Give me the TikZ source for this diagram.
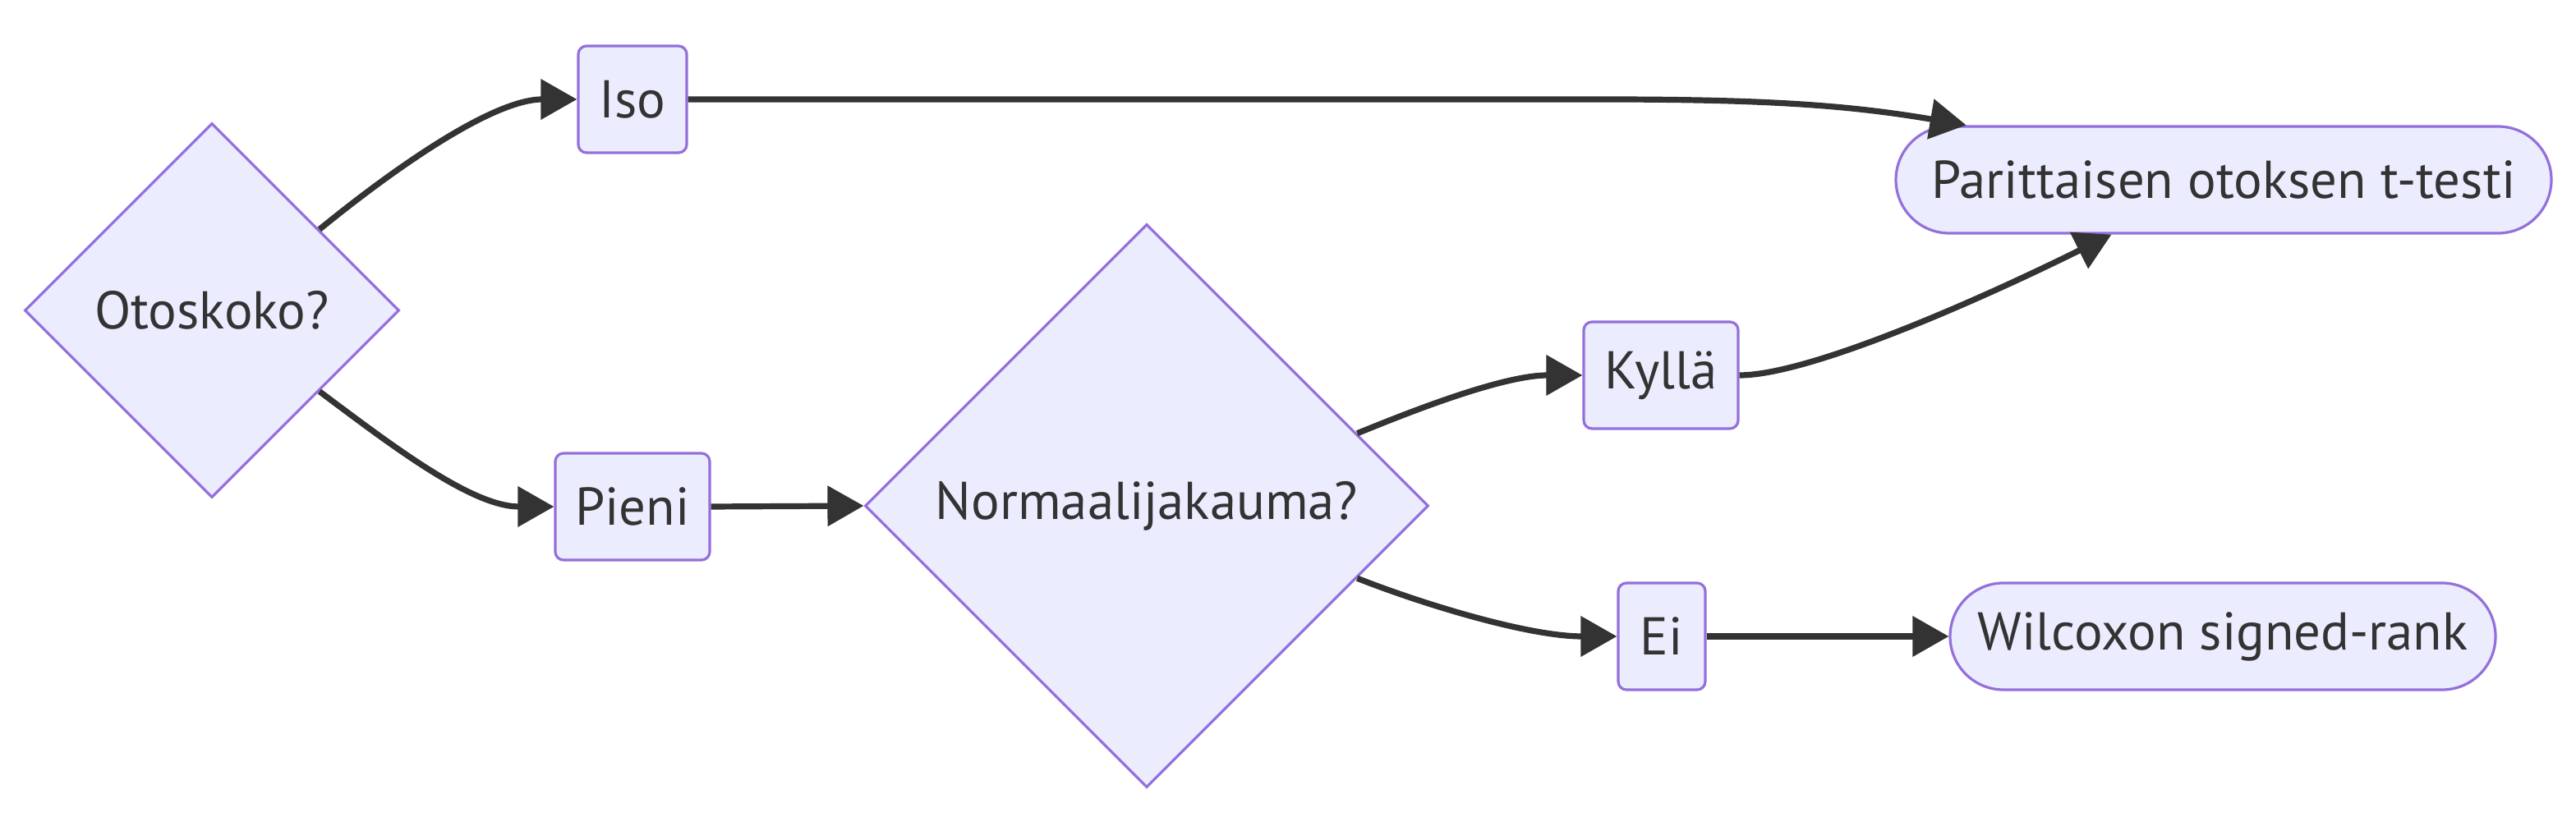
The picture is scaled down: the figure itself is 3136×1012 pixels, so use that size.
\documentclass[tikz,border=0pt]{standalone}
\usepackage{fontspec}
\setmainfont{PT Sans}
\usetikzlibrary{shapes.geometric,arrows.meta}
\definecolor{nodefill}{HTML}{ECECFF}
\definecolor{nodeline}{HTML}{9370DB}
\definecolor{edgecol}{HTML}{333333}
\definecolor{txtcol}{HTML}{333333}
\begin{document}
\begin{tikzpicture}[x=0.25pt,y=-0.25pt,
  lbl/.style={text=txtcol, font=\fontsize{16.2}{19}\selectfont},
  decision/.style={lbl, diamond, aspect=1, draw=nodeline, fill=nodefill, line width=0.8pt, inner sep=0pt},
  box/.style={lbl, rectangle, rounded corners=2.5pt, draw=nodeline, fill=nodefill, line width=0.8pt, inner sep=0pt, minimum height=32.5pt},
  term/.style={box, rounded corners=16.25pt},
  link/.style={draw=edgecol, line width=1.8pt, -{Triangle[length=11pt,width=12pt]}}]
\fill[white] (0,0) rectangle (3136,1012);
\useasboundingbox (0,0) rectangle (3136,1012);

\node[decision, minimum width=114pt, minimum height=114pt] (oto) at (258,378) {Otoskoko?};
\node[box, minimum width=33pt] (iso) at (770,121) {Iso};
\node[box, minimum width=47pt] (pie) at (770,617) {Pieni};
\node[decision, minimum width=171.5pt, minimum height=171.5pt] (nor) at (1396,616) {Normaalijakauma?};
\node[box, minimum width=47pt] (kyl) at (2022,457) {Kyllä};
\node[box, minimum width=26.5pt] (ei) at (2023,775) {Ei};
\node[term, minimum width=199.5pt] (par) at (2707,219) {Parittaisen otoksen t-testi};
\node[term, minimum width=166pt] (wil) at (2706,775) {Wilcoxon signed-rank};

\draw[link] (oto.37) .. controls (480,205) and (600,121) .. (iso.west);
\draw[link] (oto.-37) .. controls (480,545) and (575,617) .. (pie.west);
\draw[link] (pie.east) -- (nor.west);
\draw[link] (nor.19.5) .. controls (1720,500) and (1830,457) .. (kyl.west);
\draw[link] (nor.-19.8) .. controls (1730,735) and (1860,775) .. (ei.west);
\draw[link] (iso.east) -- (1950,121) .. controls (2150,121) and (2250,128) .. (par.168.55);
\draw[link] (kyl.east) .. controls (2200,457) and (2400,370) .. (par.206);
\draw[link] (ei.east) -- (wil.west);
\end{tikzpicture}
\end{document}
